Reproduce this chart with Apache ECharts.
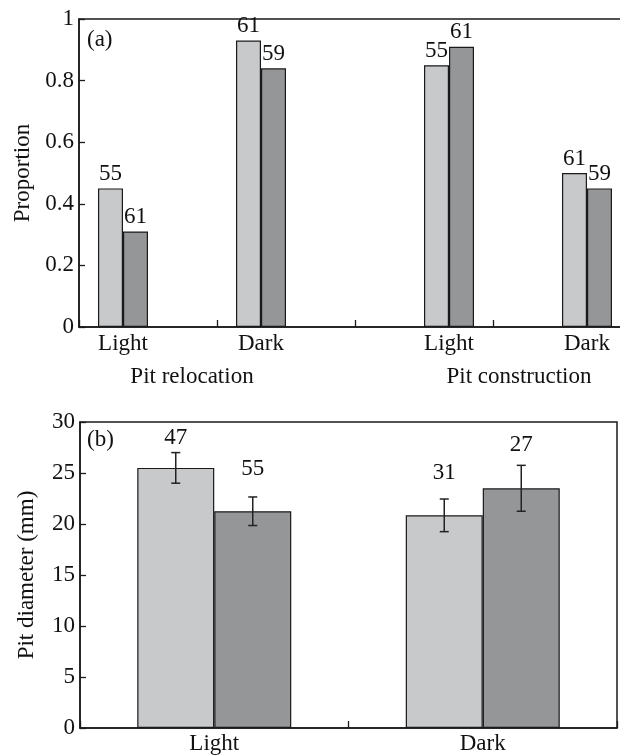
<!DOCTYPE html>
<html><head><meta charset="utf-8">
<script src="https://cdn.jsdelivr.net/npm/echarts@6/dist/echarts.min.js"></script>
<style>html,body{margin:0;padding:0;background:#fff}#c{width:620px;height:756px}</style>
</head><body><div id="c"></div>
<script>
// ---- Panel (a): proportions ----
const aCategories = ['Light', 'Dark', 'Light', 'Dark'];
const aGroupOf = [0, 0, 1, 1];
const aGroups = ['Pit relocation', 'Pit construction'];
const aLightValues = [0.45, 0.93, 0.85, 0.50];
const aDarkValues = [0.31, 0.84, 0.91, 0.45];
const aLightN = [55, 61, 55, 61];
const aDarkN = [61, 59, 61, 59];

// ---- Panel (b): pit diameter (mm) ----
const bCategories = ['Light', 'Dark'];
const bLightMeans = [25.5, 20.85];
const bLightErr = [1.5, 1.6];
const bDarkMeans = [21.25, 23.5];
const bDarkErr = [1.4, 2.25];
const bLightN = [47, 31];
const bDarkN = [55, 27];

// ---- styling ----
const FF = '"Liberation Serif", "Times New Roman", serif';
const FS = 23;
const INK = '#1a1a1a';
const LIGHT = '#c8c9cb';
const DARK = '#959698';
const aBarW = 25;
const bBarW = 77;
const bLabelLift = { light: [15, 26], dark: [28, 20] };

const chart = echarts.init(document.getElementById('c'), null, { renderer: 'canvas' });

function aSeries(values, nArr, group, color) {
  return {
    type: 'bar', xAxisIndex: 0, yAxisIndex: 0,
    barWidth: aBarW, barGap: '0%',
    data: values.map((v, i) => aGroupOf[i] === group
      ? { value: v, label: { formatter: String(nArr[i]) } } : '-'),
    itemStyle: { color: color, borderColor: INK, borderWidth: 1.2 },
    label: { show: true, position: 'top', distance: 3, fontFamily: FF, fontSize: FS, color: '#111' },
    emphasis: { disabled: true },
    silent: true
  };
}

function errSeries(means, errs, nArr, lifts, sign) {
  return {
    type: 'custom', xAxisIndex: 1, yAxisIndex: 1, silent: true, z: 5,
    data: means.map((m, i) => [i, m, errs[i], nArr[i], lifts[i]]),
    renderItem: function (params, api) {
      const i = api.value(0), m = api.value(1), e = api.value(2);
      const n = api.value(3), lift = api.value(4);
      const x = api.coord([i, m])[0] + sign * bBarW / 2;
      const top = api.coord([i, m + e])[1];
      const bot = api.coord([i, m - e])[1];
      const st = { stroke: '#222', lineWidth: 1.5 };
      return {
        type: 'group', children: [
          { type: 'line', shape: { x1: x, y1: top, x2: x, y2: bot }, style: st },
          { type: 'line', shape: { x1: x - 4.5, y1: top, x2: x + 4.5, y2: top }, style: st },
          { type: 'line', shape: { x1: x - 4.5, y1: bot, x2: x + 4.5, y2: bot }, style: st },
          { type: 'text', style: { text: String(n), x: x, y: top - lift, align: 'center', verticalAlign: 'middle',
              fontFamily: FF, fontSize: FS, fill: '#111' } }
        ]
      };
    }
  };
}

const axisLine = { show: true, lineStyle: { color: INK, width: 1.5 } };
const tick = (len) => ({ show: true, inside: true, length: len, lineStyle: { color: INK, width: 1.3 } });

const option = {
  backgroundColor: '#fff',
  animation: false,
  grid: [
    { left: 79, right: -11, top: 19, bottom: 429, containLabel: false, outerBoundsMode: 'none',
      show: true, borderColor: INK, borderWidth: 1.5, backgroundColor: 'transparent' },
    { left: 80, right: 3, top: 422, bottom: 28, containLabel: false, outerBoundsMode: 'none',
      show: true, borderColor: INK, borderWidth: 1.5, backgroundColor: 'transparent' }
  ],
  xAxis: [
    {
      gridIndex: 0, type: 'category', data: aCategories,
      axisLine: axisLine, axisTick: tick(7),
      axisLabel: {
        margin: 5, color: '#111', fontFamily: FF, fontSize: FS, interval: 0,
        formatter: (v, i) => aGroupOf[i] === 0 ? '{l|' + v + '}' : '{r|' + v + '}',
        rich: {
          l: { padding: [0, 2 * aBarW, 0, 0], fontFamily: FF, fontSize: FS, color: '#111' },
          r: { padding: [0, 0, 0, 2 * aBarW], fontFamily: FF, fontSize: FS, color: '#111' }
        }
      },
      splitLine: { show: false }
    },
    {
      gridIndex: 1, type: 'category', data: bCategories,
      axisLine: axisLine, axisTick: tick(7),
      axisLabel: { margin: 4, color: '#111', fontFamily: FF, fontSize: FS },
      splitLine: { show: false }
    }
  ],
  yAxis: [
    {
      gridIndex: 0, type: 'value', min: 0, max: 1, interval: 0.2,
      name: 'Proportion', nameLocation: 'middle', nameGap: 42,
      nameTextStyle: { fontFamily: FF, fontSize: FS, color: '#111' },
      axisLine: axisLine, axisTick: tick(6),
      axisLabel: { margin: 5, color: '#111', fontFamily: FF, fontSize: FS },
      splitLine: { show: false }
    },
    {
      gridIndex: 1, type: 'value', min: 0, max: 30, interval: 5,
      name: 'Pit diameter (mm)', nameLocation: 'middle', nameGap: 42,
      nameTextStyle: { fontFamily: FF, fontSize: FS, color: '#111' },
      axisLine: axisLine, axisTick: tick(6),
      axisLabel: { margin: 5, color: '#111', fontFamily: FF, fontSize: FS },
      splitLine: { show: false }
    }
  ],
  graphic: [
    { type: 'text', left: 87, top: 28, style: { text: '(a)', fontFamily: FF, fontSize: FS, fill: '#111' } },
    { type: 'text', left: 87, top: 428, style: { text: '(b)', fontFamily: FF, fontSize: FS, fill: '#111' } },
    { type: 'text', x: 192, y: 377, style: { text: aGroups[0], align: 'center', verticalAlign: 'middle', fontFamily: FF, fontSize: FS, fill: '#111' } },
    { type: 'text', x: 519, y: 377, style: { text: aGroups[1], align: 'center', verticalAlign: 'middle', fontFamily: FF, fontSize: FS, fill: '#111' } }
  ],
  series: [
    aSeries(aLightValues, aLightN, 0, LIGHT),
    aSeries(aDarkValues, aDarkN, 0, DARK),
    aSeries(aLightValues, aLightN, 1, LIGHT),
    aSeries(aDarkValues, aDarkN, 1, DARK),
    {
      type: 'bar', xAxisIndex: 1, yAxisIndex: 1, barWidth: bBarW, barGap: '0%', silent: true,
      data: bLightMeans, itemStyle: { color: LIGHT, borderColor: INK, borderWidth: 1.2 }
    },
    {
      type: 'bar', xAxisIndex: 1, yAxisIndex: 1, barWidth: bBarW, barGap: '0%', silent: true,
      data: bDarkMeans, itemStyle: { color: DARK, borderColor: INK, borderWidth: 1.2 }
    },
    errSeries(bLightMeans, bLightErr, bLightN, bLabelLift.light, -1),
    errSeries(bDarkMeans, bDarkErr, bDarkN, bLabelLift.dark, 1)
  ]
};
chart.setOption(option);
</script>
</body></html>
